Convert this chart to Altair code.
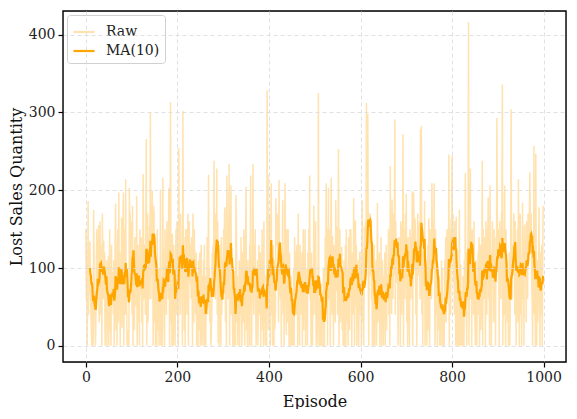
import altair as alt
import pandas as pd

# Lost sales per episode (raw), 10 per row
lost_sales = [
    150, 60, 120, 0, 95, 186, 40, 130, 85, 134,
    70, 45, 20, 0, 60, 30, 0, 175, 90, 60,
    30, 0, 35, 120, 150, 60, 140, 90, 155, 30,
    110, 160, 40, 130, 95, 0, 170, 120, 60, 135,
    90, 120, 0, 60, 30, 110, 0, 85, 40, 115,
    0, 70, 150, 20, 45, 0, 130, 60, 95, 80,
    40, 110, 0, 60, 140, 183, 20, 90, 0, 127,
    150, 30, 197, 60, 120, 0, 95, 40, 165, 23,
    60, 130, 197, 0, 85, 150, 40, 214, 60, 64,
    0, 12, 0, 20, 0, 203, 150, 170, 95, 160,
    120, 40, 180, 0, 110, 60, 20, 140, 90, 90,
    50, 193, 0, 70, 130, 30, 110, 0, 150, 67,
    90, 140, 30, 120, 0, 221, 160, 60, 130, 99,
    40, 150, 266, 0, 110, 170, 30, 140, 60, 154,
    120, 300, 60, 170, 90, 200, 150, 0, 180, 170,
    30, 140, 0, 110, 60, 0, 150, 20, 90, 100,
    0, 40, 20, 201, 0, 60, 90, 0, 216, 93,
    120, 30, 0, 150, 70, 110, 40, 160, 90, 110,
    60, 203, 90, 0, 120, 313, 30, 140, 0, 144,
    80, 0, 130, 20, 60, 0, 110, 150, 40, 160,
    130, 60, 0, 254, 90, 150, 40, 170, 110, 116,
    60, 0, 302, 90, 140, 20, 110, 0, 150, 128,
    150, 40, 120, 170, 0, 110, 160, 80, 130, 120,
    60, 140, 90, 0, 170, 120, 30, 150, 80, 110,
    40, 120, 0, 70, 30, 0, 110, 20, 90, 120,
    0, 60, 130, 20, 0, 90, 40, 110, 0, 130,
    0, 20, 0, 90, 60, 140, 40, 80, 220, 50,
    100, 30, 60, 0, 10, 40, 120, 90, 130, 100,
    238, 90, 150, 60, 170, 110, 228, 40, 160, 4,
    90, 0, 130, 20, 60, 0, 140, 40, 110, 110,
    60, 150, 90, 170, 178, 30, 120, 0, 219, 133,
    140, 60, 110, 234, 0, 130, 90, 206, 40, 110,
    50, 0, 90, 20, 0, 60, 40, 0, 194, 146,
    30, 90, 0, 60, 20, 110, 0, 80, 40, 140,
    60, 0, 120, 90, 30, 150, 70, 0, 140, 140,
    204, 20, 60, 0, 110, 40, 90, 0, 130, 96,
    219, 0, 0, 60, 120, 234, 90, 40, 130, 77,
    150, 60, 0, 90, 40, 110, 0, 70, 130, 70,
    40, 120, 0, 90, 60, 150, 20, 80, 0, 160,
    30, 90, 0, 60, 40, 0, 329, 61, 220, 20,
    130, 80, 170, 0, 141, 209, 40, 120, 0, 130,
    60, 0, 110, 21, 40, 190, 150, 129, 170, 150,
    90, 30, 213, 120, 87, 60, 110, 0, 110, 100,
    187, 40, 120, 0, 90, 209, 130, 60, 14, 150,
    110, 30, 150, 60, 0, 120, 40, 0, 90, 80,
    0, 60, 0, 20, 100, 0, 140, 90, 120, 120,
    40, 130, 80, 0, 170, 60, 110, 0, 130, 60,
    90, 40, 120, 0, 80, 150, 20, 110, 60, 150,
    0, 70, 40, 100, 0, 120, 90, 150, 111, 219,
    60, 100, 0, 120, 30, 0, 90, 40, 180, 60,
    120, 40, 160, 0, 90, 60, 30, 0, 325, 55,
    60, 0, 40, 0, 80, 0, 0, 70, 30, 100,
    0, 0, 60, 140, 90, 209, 40, 150, 0, 111,
    203, 60, 120, 150, 0, 130, 216, 90, 40, 141,
    110, 0, 130, 60, 90, 30, 187, 120, 70, 153,
    40, 120, 253, 0, 90, 150, 30, 110, 60, 127,
    20, 90, 0, 60, 110, 0, 40, 130, 0, 150,
    30, 100, 60, 0, 140, 90, 20, 150, 110, 150,
    60, 0, 120, 90, 40, 190, 100, 0, 160, 160,
    50, 130, 0, 90, 40, 110, 0, 60, 120, 120,
    40, 100, 0, 60, 187, 30, 120, 0, 90, 153,
    90, 160, 120, 312, 170, 130, 298, 100, 0, 170,
    150, 170, 90, 162, 60, 118, 0, 40, 0, 60,
    130, 0, 90, 40, 110, 0, 60, 184, 30, 76,
    60, 120, 0, 90, 30, 140, 0, 70, 110, 60,
    0, 90, 50, 120, 0, 60, 130, 20, 80, 90,
    70, 150, 40, 110, 0, 231, 90, 160, 41, 188,
    120, 60, 170, 90, 150, 291, 40, 160, 110, 109,
    80, 130, 0, 90, 140, 60, 110, 0, 160, 150,
    40, 130, 90, 272, 0, 150, 120, 60, 170, 118,
    195, 30, 110, 0, 140, 60, 90, 0, 150, 125,
    60, 140, 90, 199, 0, 130, 197, 160, 110, 164,
    150, 40, 120, 0, 110, 170, 90, 130, 150, 160,
    60, 278, 150, 283, 40, 120, 0, 110, 130, 79,
    186, 0, 60, 40, 110, 0, 90, 130, 20, 164,
    40, 0, 150, 90, 120, 60, 209, 140, 111, 160,
    130, 209, 60, 0, 150, 90, 40, 120, 0, 101,
    60, 20, 90, 0, 40, 70, 0, 110, 30, 100,
    0, 20, 50, 0, 110, 60, 140, 30, 100, 150,
    60, 130, 90, 246, 0, 150, 120, 40, 164, 150,
    244, 110, 170, 80, 150, 40, 160, 130, 0, 166,
    60, 0, 90, 30, 0, 60, 175, 0, 40, 105,
    0, 70, 30, 0, 90, 40, 0, 110, 38, 222,
    90, 40, 0, 120, 60, 150, 416, 0, 110, 64,
    228, 60, 130, 0, 150, 90, 120, 40, 160, 72,
    30, 0, 110, 60, 0, 90, 40, 120, 70, 140,
    0, 80, 130, 20, 60, 110, 238, 0, 150, 92,
    60, 140, 90, 0, 160, 120, 40, 150, 129, 191,
    60, 110, 0, 206, 40, 120, 0, 90, 160, 94,
    130, 30, 150, 60, 110, 0, 140, 90, 293, 147,
    100, 150, 120, 0, 160, 90, 130, 60, 170, 170,
    336, 0, 90, 40, 120, 206, 60, 0, 150, 48,
    110, 30, 90, 0, 60, 120, 0, 40, 96, 304,
    150, 60, 130, 90, 110, 170, 120, 40, 160, 90,
    0, 120, 60, 150, 30, 214, 90, 0, 170, 166,
    40, 110, 0, 90, 184, 60, 130, 0, 150, 156,
    90, 140, 30, 160, 120, 60, 170, 110, 150, 170,
    223, 150, 120, 170, 77, 60, 0, 120, 43, 257,
    40, 90, 0, 247, 60, 0, 110, 30, 70, 103,
    178, 60, 0, 120, 40, 90, 130, 0, 102, 180,
]
episodes = list(range(len(lost_sales)))
series_names = ["Raw", "MA(10)"]
series_colors = ["#FFE2AE", "#FFA500"]
x_ticks = [0, 200, 400, 600, 800, 1000]
y_ticks = [0, 100, 200, 300, 400]
x_range = [-49.95, 1048.95]
y_range = [-20.8, 430.4]

df = pd.DataFrame({"episode": episodes, "raw": lost_sales})

FONT = "DejaVu Serif"
FRAME = "black"

color = alt.Color(
    "series:N",
    scale=alt.Scale(domain=series_names, range=series_colors),
    legend=alt.Legend(
        title=None,
        orient="top-left",
        offset=4,
        symbolType="stroke",
        symbolSize=441,
        symbolStrokeWidth=2.2,
        labelFont=FONT,
        labelFontSize=14,
        labelColor="#222",
        fillColor="white",
        strokeColor="#d0d0d0",
        cornerRadius=3,
        padding=5,
        rowPadding=0,
        labelOffset=10,
    ),
)

x_scale = alt.Scale(domain=x_range, nice=False, zero=False)
y_scale = alt.Scale(domain=y_range, nice=False, zero=False)

base = alt.Chart(df)

raw_line = base.transform_calculate(series="'Raw'").mark_line(
    strokeWidth=1.5, clip=True
).encode(
    x=alt.X(
        "episode:Q",
        scale=x_scale,
        axis=alt.Axis(values=x_ticks, title="Episode", format="d",
                      domain=False, zindex=1),
    ),
    y=alt.Y(
        "raw:Q",
        scale=y_scale,
        axis=alt.Axis(values=y_ticks, title="Lost Sales Quantity",
                      domain=False, zindex=1),
    ),
    color=color,
)

ma_line = base.transform_window(
    ma="mean(raw)", frame=[-9, 0], sort=[alt.SortField("episode")]
).transform_filter("datum.episode >= 9").transform_calculate(
    series="'MA(10)'"
).mark_line(strokeWidth=2.2, clip=True).encode(
    x=alt.X("episode:Q", scale=x_scale),
    y=alt.Y("ma:Q", scale=y_scale),
    color=color,
)

# plot frame: a rectangle spanning the full scale domains
frame_df = pd.DataFrame({"x0": [x_range[0]], "x1": [x_range[1]],
                         "y0": [y_range[0]], "y1": [y_range[1]]})
frame = alt.Chart(frame_df).mark_rect(
    fill=None, fillOpacity=0, stroke=FRAME, strokeWidth=1.4, opacity=1
).encode(
    x=alt.X("x0:Q", scale=x_scale),
    x2="x1:Q",
    y=alt.Y("y0:Q", scale=y_scale),
    y2="y1:Q",
)

chart = alt.layer(raw_line, ma_line, frame).properties(
    width=561,
    height=401,
    autosize=alt.AutoSizeParams(type="fit", contains="padding"),
    padding={"left": 0, "top": 2, "right": 2, "bottom": 0},
).configure_axis(
    labelFont=FONT,
    titleFont=FONT,
    labelFontSize=14,
    titleFontSize=16,
    titleFontWeight="normal",
    labelColor="#222",
    titleColor="#111",
    tickColor="black",
    tickSize=5,
    tickWidth=1.2,
    labelPadding=3,
    grid=True,
    gridColor="#d9d9d9",
    gridDash=[4, 3],
    gridWidth=0.8,
).configure_axisX(
    titlePadding=9,
).configure_axisY(
    titlePadding=4,
)

chart.save("out.html", embed_options={"renderer": "svg", "actions": False})
